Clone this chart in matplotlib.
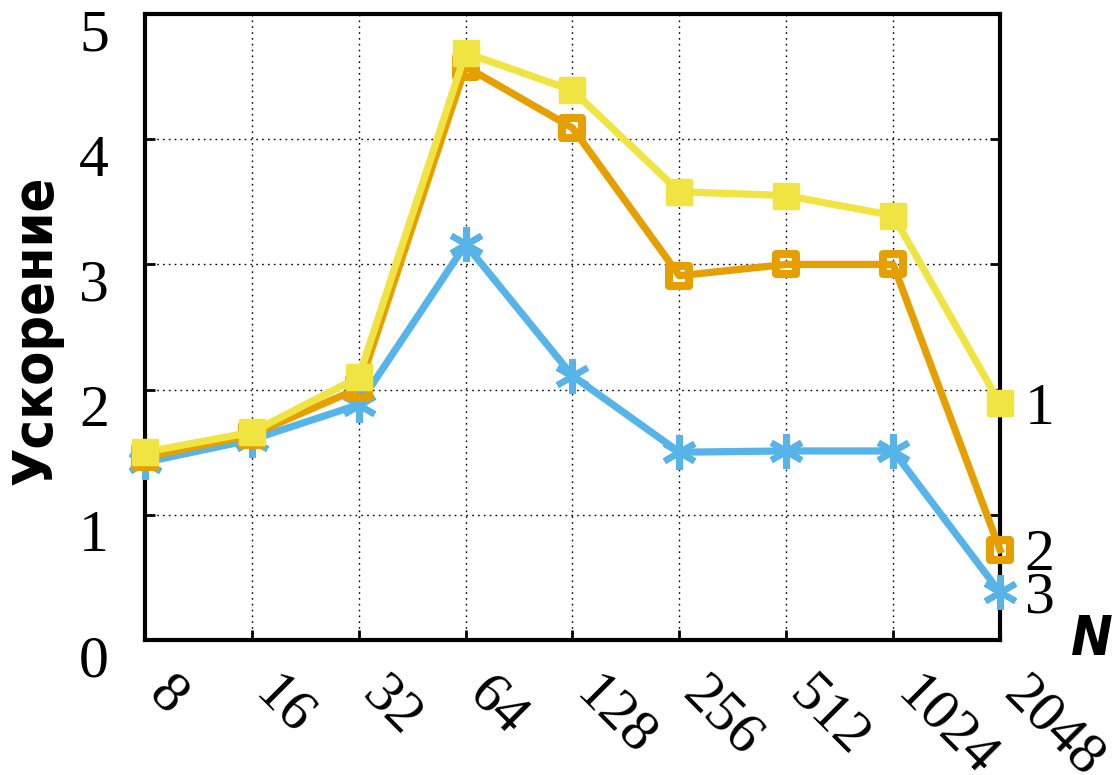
import matplotlib
matplotlib.use("Agg")
import matplotlib.pyplot as plt
from matplotlib.markers import MarkerStyle
from matplotlib.transforms import ScaledTranslation

sizes = ["8", "16", "32", "64", "128", "256", "512", "1024", "2048"]
speedup_1 = [1.50, 1.66, 2.10, 4.69, 4.39, 3.58, 3.55, 3.39, 1.89]
speedup_2 = [1.46, 1.64, 2.01, 4.58, 4.09, 2.91, 3.00, 3.00, 0.72]
speedup_3 = [1.42, 1.60, 1.88, 3.16, 2.11, 1.50, 1.51, 1.51, 0.38]
series_names = ["1", "2", "3"]
y_ticks = [0, 1, 2, 3, 4, 5]

serif = ["Liberation Serif", "DejaVu Serif"]

fig = plt.figure(figsize=(11.15, 7.75), dpi=100)
ax = fig.add_axes([145 / 1115, 135 / 775, 855 / 1115, 626 / 775])

x = list(range(len(sizes)))
ax.plot(x, speedup_3, color="#56B4E9", lw=5.2,
        marker=MarkerStyle((6, 2, 0), capstyle="round"),
        markersize=25, markeredgewidth=4.5, zorder=3, clip_on=False,
        solid_joinstyle="round")
ax.plot(x, speedup_2, color="#E69F00", lw=5.2,
        marker=MarkerStyle("s", joinstyle="round"), markersize=14,
        markerfacecolor="none", markeredgewidth=5.8, zorder=4, clip_on=False,
        solid_joinstyle="round")
ax.plot(x, speedup_1, color="#F0E442", lw=5.2,
        marker=MarkerStyle("s", joinstyle="round"), markersize=17,
        markeredgewidth=2.5, zorder=5, clip_on=False, solid_joinstyle="round")

ax.set_xlim(0, len(sizes) - 1)
ax.set_ylim(0, 5)
ax.set_xticks(x)
ax.set_xticklabels(sizes, rotation=-45, ha="left", va="top",
                   rotation_mode="anchor", family=serif, fontsize=42)
ax.set_yticks(y_ticks)
ax.set_yticklabels([str(v) for v in y_ticks], family=serif, fontsize=43)
ax.tick_params(axis="x", direction="in", length=7, width=2, pad=20,
               top=False, bottom=True)
ax.tick_params(axis="y", direction="in", length=7, width=2, pad=26,
               left=True, right=True)
x_shift = ScaledTranslation(30 / 100, 0, fig.dpi_scale_trans)
for lbl in ax.get_xticklabels():
    lbl.set_transform(lbl.get_transform() + x_shift)
y_shift = ScaledTranslation(0, -16 / 100, fig.dpi_scale_trans)
for lbl in ax.get_yticklabels():
    lbl.set_transform(lbl.get_transform() + y_shift)

ax.grid(True, color="black", linestyle=(0, (1.2, 3)), linewidth=1.0)
for s in ax.spines.values():
    s.set_linewidth(3)

# end-of-line labels
for name, vals in zip(series_names, [speedup_1, speedup_2, speedup_3]):
    ax.text(len(sizes) - 1 + 0.23, vals[-1] - 0.05, name, family=serif,
            fontsize=43, va="center", ha="left")

fig.text(37 / 1115, 1 - 330 / 775, "Ускорение", fontsize=40,
         family="DejaVu Sans", fontstretch="condensed", fontweight="bold",
         rotation=90, ha="center", va="center")
fig.text(1092 / 1115, 1 - 640 / 775, "N", fontsize=40, fontweight="bold",
         fontstyle="italic", fontstretch="condensed", family="DejaVu Sans",
         ha="center", va="center")

fig.savefig("out.png", dpi=100, facecolor="white")
